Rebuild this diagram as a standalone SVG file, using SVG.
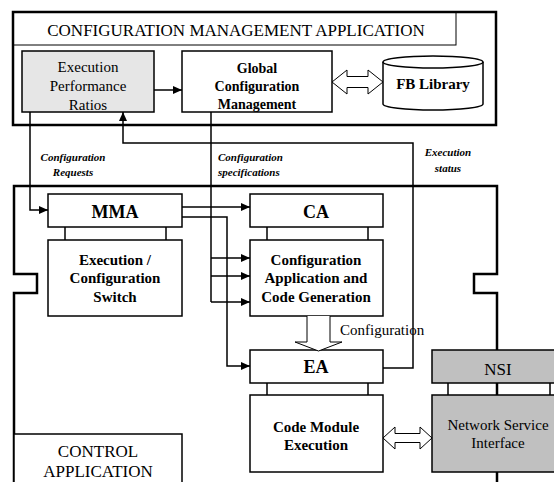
<svg xmlns="http://www.w3.org/2000/svg" width="554" height="482" viewBox="0 0 554 482">
<defs>
<marker id="ah" markerWidth="9" markerHeight="8" refX="9" refY="4" orient="auto" markerUnits="userSpaceOnUse">
<path d="M0,0 L9,4 L0,8 Z" fill="#000"/>
</marker>
<style>
.box{fill:#fff;stroke:#000;stroke-width:1.5}
.outer{fill:none;stroke:#000;stroke-width:2.5}
.ln{fill:none;stroke:#000;stroke-width:1.5}
.arr{fill:none;stroke:#000;stroke-width:1.5;marker-end:url(#ah)}
.hol{fill:#fff;stroke:#000;stroke-width:1}
text{font-family:"Liberation Serif","Times New Roman",serif;fill:#000;text-anchor:middle}
.b{font-weight:bold}
.lab{font-weight:bold;font-style:italic;font-size:11px}
</style>
</defs>
<rect width="554" height="482" fill="#fff"/>

<g id="config-mgmt-app">
<rect x="13" y="12" width="483" height="113" class="outer"/>
<rect x="13" y="12" width="443" height="33" fill="none" stroke="#000" stroke-width="1"/>
<text x="236" y="36" font-size="17">CONFIGURATION MANAGEMENT APPLICATION</text>
</g>

<g id="control-app">
<path d="M14,482 L14,293 L37,293 L37,274 L14,274 L14,186 L497,186 L497,274 L474,274 L474,293 L497,293 L497,482" class="outer"/>
</g>

<g id="epr">
<rect x="22" y="51" width="132" height="61" fill="#e6e6e6" stroke="#000" stroke-width="1.5"/>
<text x="88" y="72" font-size="15">Execution</text>
<text x="88" y="91" font-size="15">Performance</text>
<text x="88" y="110" font-size="15">Ratios</text>
</g>

<g id="gcm">
<rect x="182" y="51" width="150" height="61" class="box"/>
<text x="257" y="73" font-size="14" class="b">Global</text>
<text x="257" y="91" font-size="14" class="b">Configuration</text>
<text x="257" y="109" font-size="14" class="b">Management</text>
</g>

<g id="fb-library">
<path d="M383,62 L383,104 A50,6 0 0 0 483,104 L483,62" fill="#fff" stroke="#000" stroke-width="1.5"/>
<ellipse cx="433" cy="62" rx="50" ry="6" fill="#fff" stroke="#000" stroke-width="1.5"/>
<text x="433" y="89" font-size="15" class="b">FB Library</text>
</g>

<g id="mma">
<rect x="48" y="194" width="134" height="33" class="box"/>
<text x="115" y="218" font-size="18" class="b">MMA</text>
<line x1="65" y1="227" x2="65" y2="240" class="ln"/>
<line x1="166" y1="227" x2="166" y2="240" class="ln"/>
</g>

<g id="switch">
<rect x="48" y="240" width="134" height="76" class="box"/>
<text x="115" y="265" font-size="15" class="b">Execution /</text>
<text x="115" y="283" font-size="15" class="b">Configuration</text>
<text x="115" y="302" font-size="15" class="b">Switch</text>
</g>

<g id="ca">
<rect x="250" y="194" width="133" height="33" class="box"/>
<text x="316" y="218" font-size="18" class="b">CA</text>
<line x1="267" y1="227" x2="267" y2="240" class="ln"/>
<line x1="368" y1="227" x2="368" y2="240" class="ln"/>
</g>

<g id="cacg">
<rect x="250" y="240" width="133" height="76" class="box"/>
<text x="316" y="265" font-size="15" class="b">Configuration</text>
<text x="316" y="283" font-size="15" class="b">Application and</text>
<text x="316" y="302" font-size="15" class="b">Code Generation</text>
</g>

<g id="ea">
<rect x="250" y="350" width="133" height="33" class="box"/>
<text x="316" y="373" font-size="18" class="b">EA</text>
<line x1="267" y1="383" x2="267" y2="395" class="ln"/>
<line x1="368" y1="383" x2="368" y2="395" class="ln"/>
</g>

<g id="cme">
<rect x="250" y="395" width="133" height="77" class="box"/>
<text x="316" y="432" font-size="15" class="b">Code Module</text>
<text x="316" y="450" font-size="15" class="b">Execution</text>
</g>

<g id="nsi">
<rect x="432" y="350" width="132" height="33" fill="#c0c0c0" stroke="#000" stroke-width="1.5"/>
<text x="498" y="375" font-size="17">NSI</text>
<line x1="448" y1="383" x2="448" y2="395" class="ln"/>
<line x1="550" y1="383" x2="550" y2="395" class="ln"/>
</g>

<g id="nsi-interface">
<rect x="432" y="395" width="132" height="77" fill="#c0c0c0" stroke="#000" stroke-width="1.5"/>
<text x="498" y="430" font-size="15">Network Service</text>
<text x="498" y="448" font-size="15">Interface</text>
</g>

<g id="control-app-box">
<rect x="14" y="434" width="168" height="60" class="box"/>
<text x="98" y="457" font-size="17">CONTROL</text>
<text x="98" y="477" font-size="17">APPLICATION</text>
</g>

<g id="connectors">
<line x1="154" y1="90" x2="182" y2="90" class="arr"/>
<polyline points="30,112 30,210 48,210" class="arr"/>
<line x1="211" y1="112" x2="211" y2="302" class="ln"/>
<line x1="211" y1="258" x2="250" y2="258" class="arr"/>
<line x1="211" y1="276" x2="250" y2="276" class="arr"/>
<line x1="211" y1="302" x2="250" y2="302" class="arr"/>
<line x1="182" y1="207" x2="250" y2="207" class="arr"/>
<polyline points="182,217 227,217 227,366 250,366" class="arr"/>
<polyline points="383,368 413,368 413,143 123,143 123,112" class="arr"/>
<path d="M332,82 L347,70 L347,76.5 L368,76.5 L368,70 L383,82 L368,94 L368,87.5 L347,87.5 L347,94 Z" class="hol"/>
<path d="M383,438 L395,427 L395,433.5 L420,433.5 L420,427 L432,438 L420,449 L420,442.5 L395,442.5 L395,449 Z" class="hol"/>
<path d="M307,316 L307,342 L295,342 L318.5,351 L342,342 L330,342 L330,316" class="hol"/>
<text x="340" y="335" font-size="15" style="text-anchor:start">Configuration</text>
<text x="73" y="161" class="lab">Configuration</text>
<text x="73" y="176" class="lab">Requests</text>
<text x="218" y="161" class="lab" style="text-anchor:start">Configuration</text>
<text x="218" y="176" class="lab" style="text-anchor:start">specifications</text>
<text x="448" y="156" class="lab">Execution</text>
<text x="448" y="172" class="lab">status</text>
</g>
</svg>
